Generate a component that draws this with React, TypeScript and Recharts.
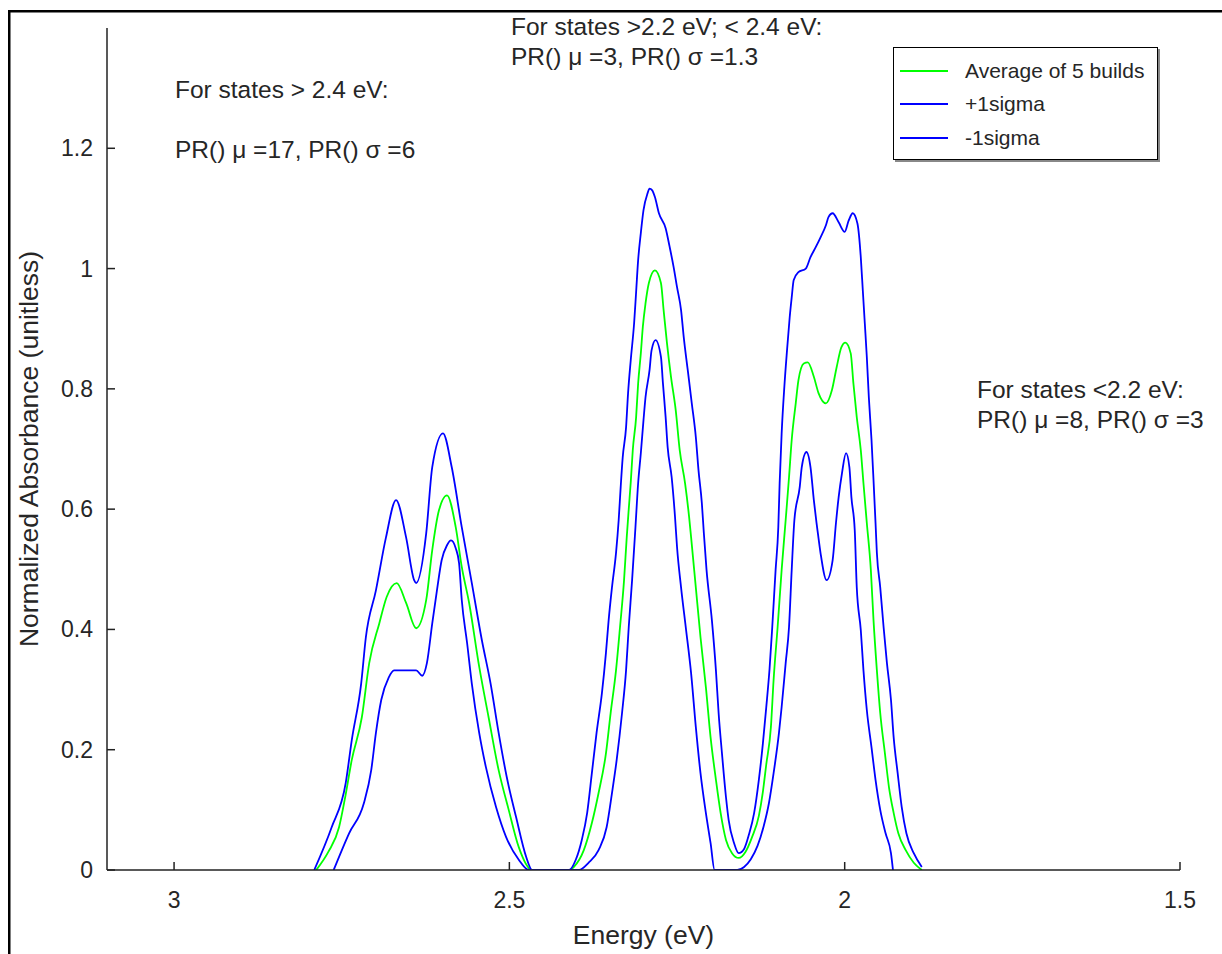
import React from 'react';
import { LineChart, Line, XAxis, YAxis, Legend } from 'recharts';

// Energy (eV), absorbance — ordered from high energy (left) to low energy (right)
const averageSeries: [number, number][] = [
  [2.788, 0], [2.77, 0.03], [2.754, 0.071], [2.745, 0.12], [2.735, 0.183], [2.72, 0.254],
  [2.709, 0.344], [2.694, 0.41], [2.683, 0.454], [2.668, 0.477], [2.654, 0.444], [2.639, 0.402],
  [2.624, 0.449], [2.615, 0.532], [2.605, 0.598], [2.593, 0.623], [2.58, 0.57], [2.571, 0.504],
  [2.56, 0.444], [2.545, 0.338], [2.531, 0.254], [2.516, 0.166], [2.501, 0.1], [2.486, 0.038],
  [2.466, 0], [2.41, 0], [2.404, 0.005], [2.389, 0.033], [2.377, 0.078], [2.367, 0.128],
  [2.356, 0.194], [2.349, 0.261], [2.341, 0.332], [2.335, 0.404], [2.329, 0.482], [2.325, 0.553],
  [2.322, 0.6], [2.319, 0.645], [2.316, 0.698], [2.311, 0.753], [2.308, 0.809], [2.304, 0.859],
  [2.301, 0.903], [2.297, 0.942], [2.292, 0.976], [2.283, 0.997], [2.274, 0.976], [2.27, 0.931],
  [2.265, 0.876], [2.259, 0.82], [2.252, 0.765], [2.246, 0.698], [2.238, 0.643], [2.232, 0.587],
  [2.229, 0.553], [2.222, 0.47], [2.215, 0.387], [2.207, 0.304], [2.2, 0.221], [2.192, 0.15],
  [2.185, 0.095], [2.177, 0.05], [2.168, 0.028], [2.158, 0.02], [2.148, 0.03], [2.138, 0.055],
  [2.128, 0.09], [2.122, 0.13], [2.117, 0.175], [2.11, 0.238], [2.106, 0.316], [2.1, 0.404],
  [2.094, 0.499], [2.088, 0.582], [2.083, 0.653], [2.079, 0.715], [2.073, 0.776], [2.069, 0.814],
  [2.061, 0.842], [2.055, 0.844], [2.046, 0.82], [2.039, 0.793], [2.028, 0.776], [2.019, 0.798],
  [2.012, 0.836], [2.005, 0.869], [1.999, 0.877], [1.991, 0.859], [1.987, 0.809], [1.982, 0.753],
  [1.976, 0.698], [1.972, 0.643], [1.967, 0.577], [1.961, 0.499], [1.957, 0.415], [1.952, 0.332],
  [1.947, 0.261], [1.94, 0.194], [1.934, 0.138], [1.927, 0.095], [1.92, 0.061], [1.909, 0.033],
  [1.897, 0.012], [1.885, 0],
];

const plusSigmaSeries: [number, number][] = [
  [2.791, 0], [2.765, 0.071], [2.744, 0.145], [2.735, 0.216], [2.721, 0.31], [2.714, 0.387],
  [2.699, 0.465], [2.684, 0.553], [2.669, 0.615], [2.654, 0.553], [2.642, 0.482], [2.639, 0.477],
  [2.624, 0.56], [2.615, 0.67], [2.599, 0.726], [2.586, 0.67], [2.571, 0.57], [2.556, 0.477],
  [2.541, 0.382], [2.528, 0.31], [2.516, 0.228], [2.504, 0.155], [2.49, 0.088], [2.475, 0.022],
  [2.466, 0], [2.411, 0], [2.401, 0.017], [2.392, 0.05], [2.384, 0.095], [2.377, 0.161],
  [2.37, 0.228], [2.362, 0.294], [2.356, 0.361], [2.352, 0.415], [2.347, 0.47], [2.341, 0.527],
  [2.337, 0.582], [2.334, 0.637], [2.331, 0.686], [2.326, 0.736], [2.323, 0.793], [2.319, 0.848],
  [2.314, 0.909], [2.311, 0.961], [2.308, 1.014], [2.304, 1.059], [2.3, 1.097], [2.294, 1.125],
  [2.291, 1.133], [2.287, 1.13], [2.283, 1.119], [2.277, 1.092], [2.267, 1.067], [2.261, 1.036],
  [2.255, 1.002], [2.25, 0.969], [2.244, 0.931], [2.24, 0.886], [2.234, 0.831], [2.228, 0.776],
  [2.222, 0.72], [2.218, 0.665], [2.213, 0.61], [2.21, 0.56], [2.206, 0.499], [2.198, 0.415],
  [2.192, 0.332], [2.188, 0.261], [2.183, 0.194], [2.177, 0.121], [2.173, 0.083], [2.165, 0.045],
  [2.158, 0.028], [2.15, 0.035], [2.143, 0.058], [2.135, 0.095], [2.128, 0.15], [2.122, 0.21],
  [2.117, 0.27], [2.112, 0.335], [2.108, 0.404], [2.103, 0.499], [2.099, 0.57], [2.097, 0.643],
  [2.094, 0.726], [2.09, 0.803], [2.086, 0.864], [2.082, 0.919], [2.079, 0.952], [2.076, 0.981],
  [2.069, 0.994], [2.058, 1.0], [2.051, 1.019], [2.043, 1.036], [2.036, 1.052], [2.028, 1.072],
  [2.024, 1.086], [2.018, 1.092], [2.009, 1.077], [2.0, 1.061], [1.994, 1.08], [1.988, 1.092],
  [1.981, 1.075], [1.976, 1.019], [1.973, 0.964], [1.97, 0.909], [1.967, 0.853], [1.964, 0.786],
  [1.96, 0.715], [1.957, 0.648], [1.954, 0.577], [1.952, 0.527], [1.947, 0.47], [1.942, 0.404],
  [1.937, 0.344], [1.931, 0.283], [1.927, 0.221], [1.921, 0.161], [1.915, 0.105], [1.908, 0.061],
  [1.897, 0.028], [1.885, 0.005],
];

const minusSigmaSeries: [number, number][] = [
  [2.762, 0], [2.739, 0.061], [2.717, 0.111], [2.706, 0.166], [2.699, 0.228], [2.691, 0.283],
  [2.68, 0.32], [2.672, 0.332], [2.639, 0.332], [2.63, 0.323], [2.623, 0.344], [2.615, 0.41],
  [2.608, 0.465], [2.601, 0.515], [2.593, 0.54], [2.587, 0.548], [2.58, 0.535], [2.575, 0.51],
  [2.571, 0.449], [2.563, 0.377], [2.556, 0.31], [2.545, 0.228], [2.535, 0.171], [2.52, 0.105],
  [2.505, 0.055], [2.486, 0.017], [2.471, 0], [2.396, 0], [2.382, 0.012], [2.367, 0.033],
  [2.355, 0.071], [2.347, 0.128], [2.34, 0.183], [2.332, 0.261], [2.326, 0.332], [2.322, 0.404],
  [2.317, 0.482], [2.312, 0.57], [2.308, 0.643], [2.304, 0.693], [2.3, 0.748], [2.297, 0.786],
  [2.291, 0.831], [2.288, 0.864], [2.282, 0.881], [2.274, 0.853], [2.271, 0.809], [2.267, 0.753],
  [2.264, 0.703], [2.258, 0.653], [2.253, 0.587], [2.25, 0.537], [2.244, 0.47], [2.237, 0.404],
  [2.229, 0.327], [2.222, 0.238], [2.215, 0.161], [2.207, 0.095], [2.2, 0.045], [2.194, 0],
  [2.16, 0], [2.15, 0.005], [2.14, 0.018], [2.13, 0.04], [2.121, 0.072], [2.113, 0.111],
  [2.106, 0.161], [2.098, 0.228], [2.094, 0.271], [2.088, 0.344], [2.083, 0.404], [2.079, 0.499],
  [2.075, 0.582], [2.067, 0.637], [2.064, 0.67], [2.057, 0.695], [2.051, 0.67], [2.046, 0.615],
  [2.042, 0.577], [2.04, 0.56], [2.036, 0.527], [2.027, 0.482], [2.018, 0.515], [2.013, 0.577],
  [2.009, 0.62], [2.004, 0.66], [1.998, 0.693], [1.993, 0.67], [1.99, 0.62], [1.985, 0.565],
  [1.982, 0.47], [1.976, 0.399], [1.972, 0.332], [1.967, 0.266], [1.96, 0.204], [1.954, 0.15],
  [1.947, 0.1], [1.939, 0.061], [1.931, 0.028], [1.928, 0],
];

const seriesNames = ['Average of 5 builds', '+1sigma', '-1sigma'];
const seriesColors = ['#00ff00', '#0000ff', '#0000ff'];
const xTicks = [3, 2.5, 2, 1.5];
const yTicks = [0, 0.2, 0.4, 0.6, 0.8, 1, 1.2];

const annotations = [
  { x: 175, y: 98, text: 'For states > 2.4 eV:' },
  { x: 175, y: 158, text: 'PR() \u03bc =17, PR() \u03c3 =6' },
  { x: 511, y: 35, text: 'For states >2.2 eV; < 2.4 eV:' },
  { x: 511, y: 65, text: 'PR() \u03bc =3, PR() \u03c3 =1.3' },
  { x: 977, y: 398, text: 'For states <2.2 eV:' },
  { x: 977, y: 428, text: 'PR() \u03bc =8, PR() \u03c3 =3' },
];

const toPoints = (s: [number, number][]) => s.map(([e, v]) => ({ e, v }));

const FONT = '"Liberation Sans", Arial, Helvetica, sans-serif';
const TEXT_COLOR = '#262626';

const XTick = (props: any) => {
  const { x, y, payload } = props;
  return (
    <g>
      <line x1={x} y1={y} x2={x} y2={y - 8} stroke="#222" strokeWidth={1.5} />
      <text x={x} y={y + 38} textAnchor="middle" fontSize={23} fontFamily={FONT} fill={TEXT_COLOR}>
        {String(payload.value)}
      </text>
    </g>
  );
};

const YTick = (props: any) => {
  const { x, y, payload } = props;
  return (
    <g>
      <line x1={x} y1={y} x2={x + 8} y2={y} stroke="#222" strokeWidth={1.5} />
      <text x={x - 14} y={y + 8} textAnchor="end" fontSize={23} fontFamily={FONT} fill={TEXT_COLOR}>
        {String(payload.value)}
      </text>
    </g>
  );
};

const rowCenters = [23, 56, 90];

const LegendBox = (props: any) => {
  const payload = [...(props.payload || [])].sort(
    (a: any, b: any) => seriesNames.indexOf(a.value) - seriesNames.indexOf(b.value)
  );
  return (
    <div
      style={{
        width: 265,
        height: 113,
        boxSizing: 'border-box',
        border: '1px solid #000',
        background: '#fff',
        boxShadow: '2px 2px 0 #888',
      }}
    >
      <svg width={263} height={111} style={{ display: 'block' }}>
        {payload.map((entry: any, i: number) => (
          <g key={i}>
            <line x1={6} x2={54} y1={rowCenters[i]} y2={rowCenters[i]} stroke={entry.color} strokeWidth={1.8} />
            <text x={71} y={rowCenters[i] + 7} fontSize={21} fontFamily={FONT} fill={TEXT_COLOR}>
              {entry.value}
            </text>
          </g>
        ))}
      </svg>
    </div>
  );
};

export default function App() {
  const series = [averageSeries, plusSigmaSeries, minusSigmaSeries];
  return (
    <div style={{ position: 'absolute', left: 0, top: 0, width: 1222, height: 954, background: '#fff' }}>
      <LineChart
        width={1222}
        height={954}
        margin={{ top: 28, right: 42, bottom: 54, left: 47 }}
      >
        <XAxis
          dataKey="e"
          type="number"
          domain={[1.5, 3.1]}
          reversed
          allowDataOverflow
          ticks={xTicks}
          interval={0}
          height={30}
          tickSize={0}
          tickMargin={0}
          tickLine={false}
          axisLine={{ stroke: '#222', strokeWidth: 1.5 }}
          tick={<XTick />}
        />
        <YAxis
          type="number"
          domain={[0, 1.4]}
          allowDataOverflow
          ticks={yTicks}
          interval={0}
          width={60}
          tickSize={0}
          tickMargin={0}
          tickLine={false}
          axisLine={{ stroke: '#222', strokeWidth: 1.5 }}
          tick={<YTick />}
        />
        {series.map((s, i) => (
          <Line
            key={seriesNames[i]}
            data={toPoints(s)}
            dataKey="v"
            name={seriesNames[i]}
            type="monotone"
            stroke={seriesColors[i]}
            strokeWidth={1.8}
            dot={false}
            activeDot={false}
            isAnimationActive={false}
          />
        ))}
        <Legend
          layout="vertical"
          align="center"
          verticalAlign="middle"
          content={<LegendBox />}
          wrapperStyle={{ position: 'absolute', left: 893, top: 47, width: 265, height: 113 }}
        />
      </LineChart>
      <svg
        width={1222}
        height={954}
        style={{ position: 'absolute', left: 0, top: 0, pointerEvents: 'none' }}
      >
        <line x1={8} y1={11.25} x2={1222} y2={11.25} stroke="#000" strokeWidth={2.5} />
        <line x1={9.25} y1={10} x2={9.25} y2={954} stroke="#000" strokeWidth={2.5} />
        {annotations.map((a, i) => (
          <text key={i} x={a.x} y={a.y} fontSize={24.5} fontFamily={FONT} fill={TEXT_COLOR}>
            {a.text}
          </text>
        ))}
        <text x={643.5} y={944} textAnchor="middle" fontSize={26.5} fontFamily={FONT} fill={TEXT_COLOR}>
          Energy (eV)
        </text>
        <text
          x={38}
          y={449}
          textAnchor="middle"
          fontSize={26.5}
          fontFamily={FONT}
          fill={TEXT_COLOR}
          transform="rotate(-90 38 449)"
        >
          Normalized Absorbance (unitless)
        </text>
      </svg>
    </div>
  );
}
